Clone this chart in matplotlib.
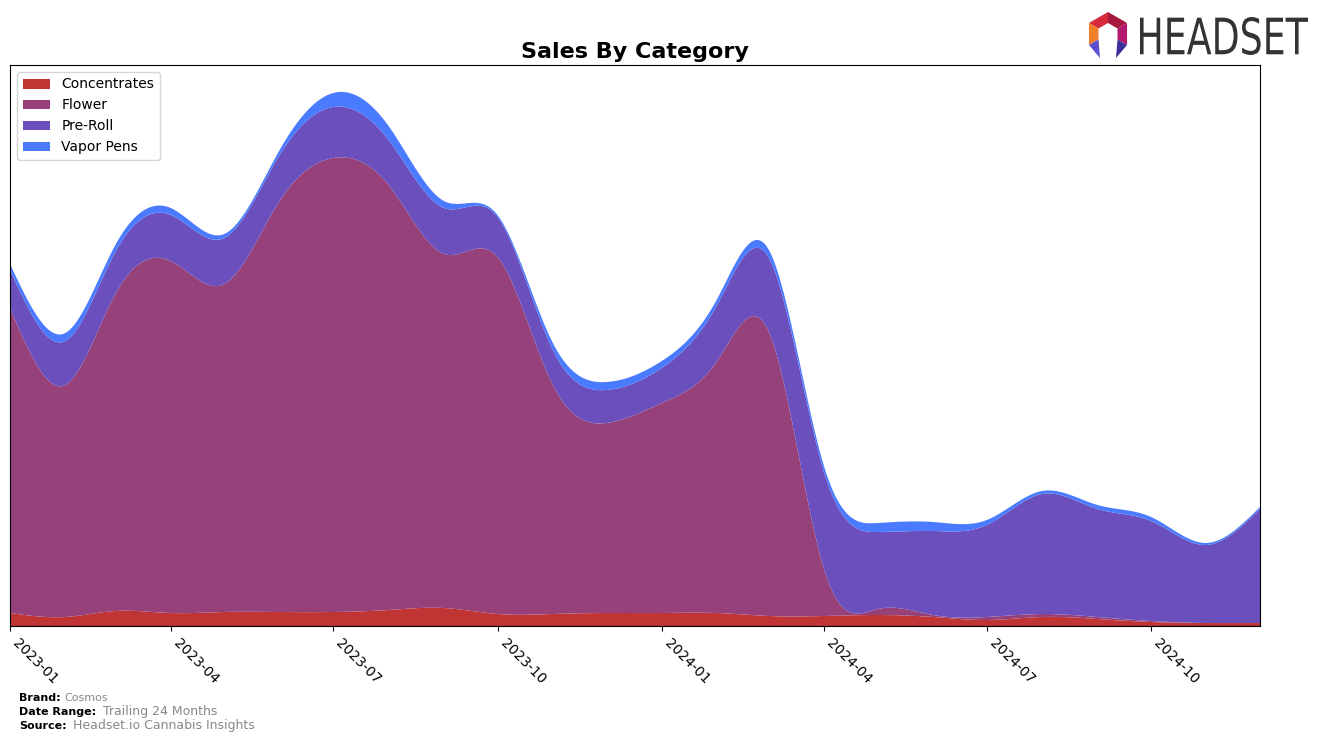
import numpy as np
import pandas as pd
import matplotlib
matplotlib.use("Agg")
import matplotlib.pyplot as plt
import matplotlib.dates as mdates
from matplotlib.textpath import TextPath
from matplotlib.patches import PathPatch, Polygon
from matplotlib.font_manager import FontProperties
from matplotlib.transforms import Affine2D

# ---------------- data ----------------
months = pd.date_range("2023-01-01", periods=24, freq="MS")
categories = ["Concentrates", "Flower", "Pre-Roll", "Vapor Pens"]
concentrates = [13, 9, 15, 13, 14, 14, 14, 16, 18, 12, 12, 13,
                13, 13, 10, 10, 11, 9, 6, 9, 7, 4, 3, 3]
flower = [305, 232, 317, 352, 328, 411, 454, 425, 354, 357, 229, 190,
          210, 252, 284, 46, 6, 2, 3, 3, 2, 1, 0, 0]
pre_roll = [38, 44, 42, 46, 46, 46, 51, 45, 46, 40, 35, 33,
            35, 56, 74, 97, 77, 84, 92, 120, 108, 100, 78, 114]
vapor_pens = [6, 8, 7, 7, 4, 5, 14, 14, 7, 2, 7, 8,
              7, 6, 8, 6, 9, 9, 5, 3, 4, 4, 2, 2]
colors = ["#C03434", "#96417A", "#6A4FBD", "#4A7BFF"]
tick_labels = ["2023-01", "2023-04", "2023-07", "2023-10",
               "2024-01", "2024-04", "2024-07", "2024-10"]


def natural_spline(x, y, xs):
    x = np.asarray(x, float)
    y = np.asarray(y, float)
    n = len(x)
    h = np.diff(x)
    A = np.zeros((n, n))
    b = np.zeros(n)
    A[0, 0] = 1
    A[-1, -1] = 1
    for i in range(1, n - 1):
        A[i, i - 1] = h[i - 1]
        A[i, i] = 2 * (h[i - 1] + h[i])
        A[i, i + 1] = h[i]
        b[i] = 3 * ((y[i + 1] - y[i]) / h[i] - (y[i] - y[i - 1]) / h[i - 1])
    c = np.linalg.solve(A, b)
    bc = (y[1:] - y[:-1]) / h - h * (2 * c[:-1] + c[1:]) / 3
    d = (c[1:] - c[:-1]) / (3 * h)
    idx = np.clip(np.searchsorted(x, xs) - 1, 0, n - 2)
    dx = xs - x[idx]
    return y[idx] + bc[idx] * dx + c[idx] * dx ** 2 + d[idx] * dx ** 3


xnum = mdates.date2num(months)
xs = np.linspace(xnum[0], xnum[-1], 1200)
series = [concentrates, flower, pre_roll, vapor_pens]
smooth = [np.clip(natural_spline(xnum, s, xs), 0, None) for s in series]

# ---------------- figure ----------------
fig = plt.figure(figsize=(13.24, 7.42), dpi=100)
ax = fig.add_axes([10 / 1324, 1 - 626 / 742, 1250 / 1324, 561 / 742])
ax.stackplot(xs, *smooth, colors=colors, labels=categories, linewidth=0.6,
             edgecolor="none")
ax.set_xlim(xnum[0], xnum[-1])
ax.set_ylim(0, 561)
ax.set_yticks([])
tick_pos = [mdates.date2num(pd.Timestamp(t + "-01")) for t in tick_labels]
ax.set_xticks(tick_pos)
ax.set_xticklabels(tick_labels, rotation=-45, ha="left", fontsize=10)
ax.set_title("Sales By Category", fontsize=16, fontweight="bold", pad=5)
ax.legend(loc="upper left", fontsize=10, frameon=True, borderaxespad=0.5)

# footer
fig.text(19 / 1324, 1 - 698 / 742, "Brand:", fontsize=8, fontweight="bold", va="center")
fig.text(64 / 1324, 1 - 698 / 742, "Cosmos", fontsize=8, color="#888888", va="center")
fig.text(19 / 1324, 1 - 712 / 742, "Date Range:", fontsize=8, fontweight="bold", va="center")
fig.text(103 / 1324, 1 - 712 / 742, "Trailing 24 Months", fontsize=9, color="#888888", va="center")
fig.text(19 / 1324, 1 - 726 / 742, "Source:", fontsize=8, fontweight="bold", va="center")
fig.text(73 / 1324, 1 - 726 / 742, "Headset.io Cannabis Insights", fontsize=9, color="#888888", va="center")

# logo
lax = fig.add_axes([1080 / 1324, 1 - 62 / 742, 235 / 1324, 54 / 742])
lax.set_xlim(1080, 1315)
lax.set_ylim(62, 8)
lax.axis("off")
cx, cy, R, r = 1108, 34, 22, 11
ang = np.deg2rad([90, 30, -30, -90, -150, 150])
outer = [(cx + R * np.cos(a), cy - R * np.sin(a)) for a in ang]
inner = [(cx + r * np.cos(a), cy - r * np.sin(a)) for a in ang]
segs = [(5, 0, "#D42A3C"), (0, 1, "#A8173E"), (1, 2, "#B3196E"), (4, 5, "#F0802A")]
for i, j, col in segs:
    lax.add_patch(Polygon([outer[i], outer[j], inner[j], inner[i]], closed=True,
                          color=col, lw=0))
# legs
lax.add_patch(Polygon([outer[4], inner[4], (cx - 8, 58)], closed=True, color="#5B4FD0", lw=0))
lax.add_patch(Polygon([outer[2], inner[2], (cx + 8, 58)], closed=True, color="#3A2F9A", lw=0))
tp = TextPath((0, 0), "HEADSET", size=40, prop=FontProperties(family="DejaVu Sans"))
bb = tp.get_extents()
sx = (1308 - 1140) / bb.width
sy = (55 - 17) / bb.height
tr = Affine2D().translate(-bb.x0, -bb.y0).scale(sx, -sy).translate(1140, 55)
lax.add_patch(PathPatch(tr.transform_path(tp), color="#333333", lw=0))

fig.savefig("out.png", dpi=100)
